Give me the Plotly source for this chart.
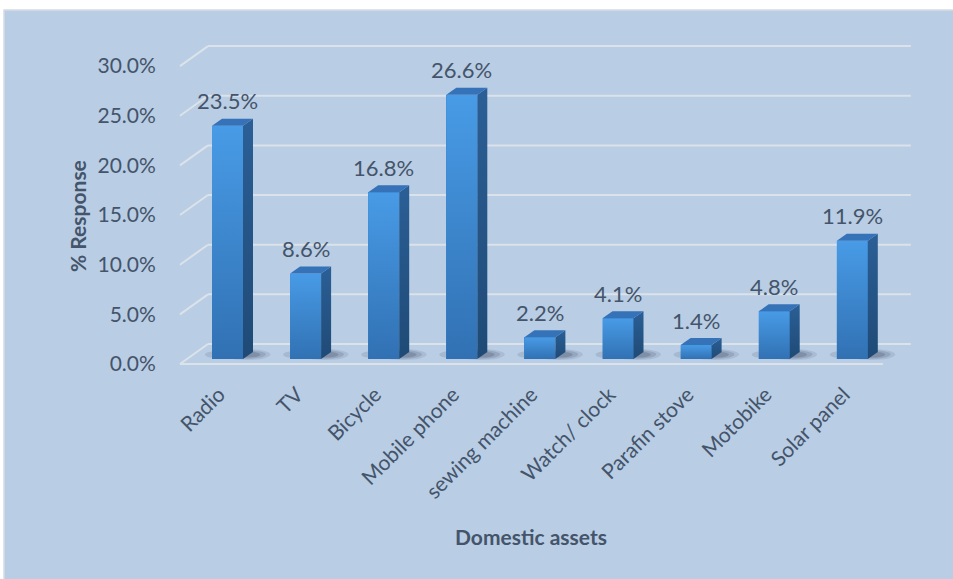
import plotly.graph_objects as go

# ---- data ----
categories = ["Radio", "TV", "Bicycle", "Mobile phone", "sewing machine",
              "Watch/ clock", "Parafin stove", "Motobike", "Solar panel"]
values = [23.5, 8.6, 16.8, 26.6, 2.2, 4.1, 1.4, 4.8, 11.9]
y_ticks = [0, 5, 10, 15, 20, 25, 30]
y_tick_text = ["0.0%", "5.0%", "10.0%", "15.0%", "20.0%", "25.0%", "30.0%"]

# ---- page / plot geometry (pixels) ----
W, H = 953, 579
L, R, T, B = 175, 38, 40, 207
PW, PH = W - L - R, H - T - B
PX_PER_CAT = 78.1      # horizontal pixels per category
PX_PER_PCT = 9.93      # vertical pixels per percentage point
X0_PX = 219            # pixel x of category 0 on the front plane
Y0_PX = 364            # pixel y of 0% on the front plane

x_range = [(L - X0_PX) / PX_PER_CAT, (W - R - X0_PX) / PX_PER_CAT]
y_range = [(Y0_PX - (H - B)) / PX_PER_PCT, (Y0_PX - T) / PX_PER_PCT]

# depth of the 3-D box (front plane -> back wall), in data units
DEPTH_X = 28 / PX_PER_CAT
DEPTH_Y = 20 / PX_PER_PCT
# bars sit a little behind the front plane
BAR_DX = 8.5 / PX_PER_CAT
BAR_BASE = 5 / PX_PER_PCT
BAR_W = 31 / PX_PER_CAT
# bar depth
SIDE_X = 10 / PX_PER_CAT
SIDE_Y = 7 / PX_PER_PCT

TEXT = "#44546A"
BG = "#B9CDE4"
GRID = "#DCE2EA"
FONT = "Lato"


def px_to_paper_x(px):
    return (px - L) / PW


def px_to_paper_y(py):
    return (H - B - py) / PH


fig = go.Figure()

shapes = []
# chart area background
shapes.append(dict(type="rect", xref="paper", yref="paper", layer="below",
                   x0=px_to_paper_x(4), x1=px_to_paper_x(W + 2),
                   y0=px_to_paper_y(H + 2), y1=px_to_paper_y(10),
                   fillcolor=BG, line=dict(color="#D6DCE4", width=1.5)))

x_left, x_right = -0.5, len(categories) - 0.5
# back-wall gridlines and the diagonal side-wall ticks
for v in y_ticks:
    shapes.append(dict(type="line", xref="x", yref="y", layer="below",
                       x0=x_left + DEPTH_X, x1=x_right + DEPTH_X,
                       y0=v + DEPTH_Y, y1=v + DEPTH_Y,
                       line=dict(color=GRID, width=2)))
    shapes.append(dict(type="line", xref="x", yref="y", layer="below",
                       x0=x_left, x1=x_left + DEPTH_X,
                       y0=v, y1=v + DEPTH_Y,
                       line=dict(color=GRID, width=2)))
# front edge of the floor
shapes.append(dict(type="line", xref="x", yref="y", layer="below",
                   x0=x_left, x1=x_right, y0=0, y1=0,
                   line=dict(color=GRID, width=2)))

# soft floor shadows cast behind and to the right of each bar
for i, v in enumerate(values):
    xr = i + BAR_DX + BAR_W / 2
    cx = xr + SIDE_X * 0.4
    cy = BAR_BASE + 0.45
    for wx, wy, a in [(0.30, 0.55, 0.10), (0.24, 0.42, 0.14), (0.17, 0.30, 0.18)]:
        shapes.append(dict(type="circle", xref="x", yref="y", layer="below",
                           x0=cx - wx, x1=cx + wx, y0=cy - wy, y1=cy + wy,
                           fillcolor=f"rgba(25,40,65,{a})", line=dict(width=0)))
    # faint shadow on the left of the bar base
    xl = i + BAR_DX - BAR_W / 2
    shapes.append(dict(type="circle", xref="x", yref="y", layer="below",
                       x0=xl - 0.09, x1=xl + 0.12, y0=cy - 0.3, y1=cy + 0.3,
                       fillcolor="rgba(25,40,65,0.12)", line=dict(width=0)))

# front faces of the bars
bar_x = [i + BAR_DX for i in range(len(values))]
fig.add_trace(go.Bar(x=bar_x, y=values, base=[BAR_BASE] * len(values),
                     width=BAR_W, marker=dict(color="#3C84CC", line=dict(width=0)),
                     hoverinfo="skip", showlegend=False))

for i, v in enumerate(values):
    xl = i + BAR_DX - BAR_W / 2
    xr = i + BAR_DX + BAR_W / 2
    yb = BAR_BASE
    yt = BAR_BASE + v
    # front-face shading
    fig.add_trace(go.Scatter(
        x=[xl, xr, xr, xl, xl], y=[yb, yb, yt, yt, yb],
        mode="lines", line=dict(width=0), fill="toself",
        fillgradient=dict(type="vertical",
                          colorscale=[[0, "#3171B3"], [1, "#489BE6"]]),
        hoverinfo="skip", showlegend=False))
    # side face
    fig.add_trace(go.Scatter(
        x=[xr, xr + SIDE_X, xr + SIDE_X, xr, xr],
        y=[yb, yb + SIDE_Y, yt + SIDE_Y, yt, yb],
        mode="lines", line=dict(width=0), fill="toself",
        fillgradient=dict(type="vertical",
                          colorscale=[[0, "#1F4A76"], [1, "#2B5F96"]]),
        hoverinfo="skip", showlegend=False))
    # top face
    fig.add_trace(go.Scatter(
        x=[xl, xr, xr + SIDE_X, xl + SIDE_X, xl],
        y=[yt, yt, yt + SIDE_Y, yt + SIDE_Y, yt],
        mode="lines", line=dict(width=0), fill="toself",
        fillcolor="#3672B7", hoverinfo="skip", showlegend=False))

annotations = []
# value labels
for i, v in enumerate(values):
    annotations.append(dict(x=i + BAR_DX, y=BAR_BASE + v, xref="x", yref="y",
                            text=f"{v:.1f}%", showarrow=False, yshift=25,
                            yanchor="middle", xanchor="center",
                            font=dict(family=FONT, size=22, color=TEXT)))
# axis titles
annotations.append(dict(x=px_to_paper_x(78), y=px_to_paper_y(216), xref="paper", yref="paper",
                        text="<b>% Response</b>", textangle=-90, showarrow=False,
                        xanchor="center", yanchor="middle",
                        font=dict(family=FONT, size=21, color=TEXT)))
annotations.append(dict(x=px_to_paper_x(531), y=px_to_paper_y(536), xref="paper", yref="paper",
                        text="<b>Domestic assets</b>", showarrow=False,
                        xanchor="center", yanchor="middle",
                        font=dict(family=FONT, size=21, color=TEXT)))

fig.update_layout(
    width=W, height=H,
    margin=dict(l=L, r=R, t=T, b=B, pad=0),
    paper_bgcolor="white", plot_bgcolor="rgba(0,0,0,0)",
    shapes=shapes, annotations=annotations,
    bargap=0,
    xaxis=dict(range=x_range, tickmode="array", tickvals=list(range(len(categories))),
               ticktext=categories, tickangle=-45, showgrid=False, zeroline=False,
               showline=False, ticks="outside", ticklen=1, tickcolor="rgba(0,0,0,0)",
               tickfont=dict(family=FONT, size=21, color=TEXT), fixedrange=True),
    yaxis=dict(range=y_range, tickmode="array", tickvals=y_ticks, ticktext=y_tick_text,
               showgrid=False, zeroline=False, showline=False, ticks="outside",
               ticklen=14, tickcolor="rgba(0,0,0,0)",
               tickfont=dict(family=FONT, size=21, color=TEXT), fixedrange=True),
)

fig.write_html("out.html")
